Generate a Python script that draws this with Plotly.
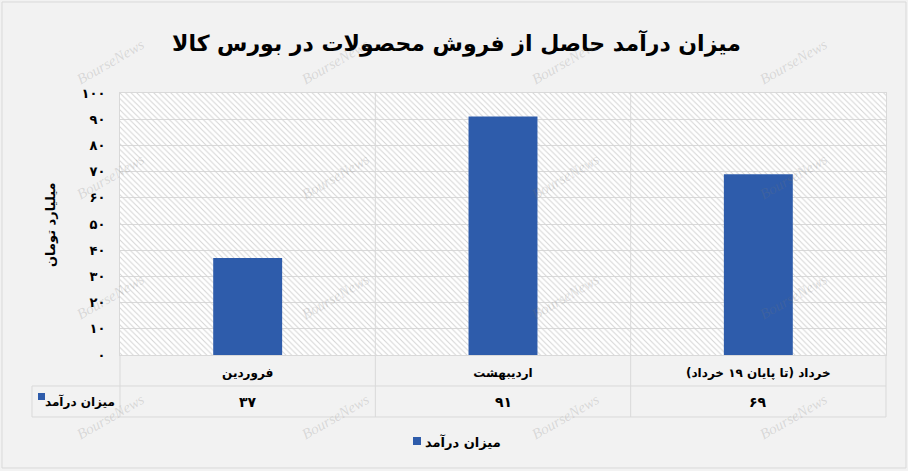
import plotly.graph_objects as go

# data
categories = ["فروردین", "اردیبهشت", "خرداد (تا پایان ۱۹ خرداد)"]
revenue = [37, 91, 69]
series_name = "میزان درآمد"
y_ticks = list(range(0, 101, 10))
title = "میزان درآمد حاصل از فروش محصولات در بورس کالا"
y_title = "میلیارد تومان"
watermark = "BourseNews"

FA = str.maketrans("0123456789", "۰۱۲۳۴۵۶۷۸۹")


def fa(n):
    return str(n).translate(FA)


# pixel helpers (figure is 908x471, plot area 120..886 x 93..355)
W, H = 908, 471
L, R, T, B = 120, 886, 93, 355


def px(x):
    return (x - L) / (R - L)


def py(y):
    return (B - y) / (B - T)


FONT = "DejaVu Sans"
GRID = "#d9d9d9"
BLUE = "#2e5cab"

xs = list(range(len(categories)))

fig = go.Figure()

# hatched plot background
fig.add_trace(go.Bar(
    x=[(len(categories) - 1) / 2], y=[y_ticks[-1]], width=[len(categories)],
    marker=dict(color="rgba(0,0,0,0)", line_width=0,
                pattern=dict(shape="\\", fgcolor="#d4d4d4", bgcolor="rgba(0,0,0,0)",
                             size=4, solidity=0.25, fillmode="replace")),
    showlegend=False, hoverinfo="skip",
))

fig.add_trace(go.Bar(
    x=xs, y=revenue, width=0.27, name=series_name, showlegend=False,
    marker=dict(color=BLUE, line_width=0),
))

shapes = []
line = dict(color=GRID, width=1)
shapes.append(dict(type="line", xref="paper", yref="paper", x0=px(32), x1=1, y0=py(386), y1=py(386), line=line))
shapes.append(dict(type="line", xref="paper", yref="paper", x0=px(32), x1=1, y0=py(417), y1=py(417), line=line))
shapes.append(dict(type="line", xref="paper", yref="paper", x0=px(32), x1=px(32), y0=py(386), y1=py(417), line=line))
shapes.append(dict(type="line", xref="paper", yref="paper", x0=0, x1=0, y0=py(417), y1=0, line=line))
shapes.append(dict(type="line", xref="paper", yref="paper", x0=1, x1=1, y0=py(417), y1=0, line=line))
for i in xs[:-1]:
    shapes.append(dict(type="line", xref="x", yref="paper", x0=i + 0.5, x1=i + 0.5,
                       y0=py(417), y1=1, line=line))
# legend key inside the table
shapes.append(dict(type="rect", xref="paper", yref="paper", x0=px(38), x1=px(45),
                   y0=py(400), y1=py(393), fillcolor=BLUE, line_width=0))
# bottom legend key
shapes.append(dict(type="rect", xref="paper", yref="paper", x0=px(413), x1=px(421),
                   y0=py(445), y1=py(437), fillcolor=BLUE, line_width=0))
# outer border
shapes.append(dict(type="rect", xref="paper", yref="paper", x0=px(2), x1=px(906),
                   y0=py(468), y1=py(2), line=line, layer="below"))

bold = dict(family=FONT, color="black", weight="bold")
mid = dict(xref="paper", yref="paper", showarrow=False, xanchor="center", yanchor="middle")
annotations = [
    dict(mid, text=title, x=px(456), y=py(43), font=dict(size=22, **bold)),
    dict(mid, text=y_title, x=px(50), y=py(225), textangle=-90, font=dict(size=13, **bold)),
    dict(mid, text=series_name, x=px(117), y=py(401), xanchor="right", font=dict(size=12, **bold)),
    dict(mid, text=series_name, x=px(423), y=py(442), xanchor="left", font=dict(size=13, **bold)),
]
for i, v in zip(xs, revenue):
    annotations.append(dict(mid, text=fa(v), x=i, y=py(402), xref="x",
                            font=dict(size=14, **bold)))

for wy in [62, 177, 297, 417]:
    for wx in [110, 335, 565, 793]:
        annotations.append(dict(mid, text=watermark, x=px(wx), y=py(wy), textangle=-30,
                                font=dict(family="Liberation Serif", size=15,
                                          color="rgba(120,120,120,0.22)", style="italic")))

fig.update_layout(
    width=W, height=H,
    margin=dict(l=L, r=W - R, t=T, b=H - B),
    paper_bgcolor="#f2f2f2",
    plot_bgcolor="white",
    barmode="overlay",
    font=dict(family=FONT),
    xaxis=dict(range=[-0.5, len(categories) - 0.5], tickvals=xs, ticktext=categories,
               showgrid=False, zeroline=False, showline=True, mirror=True, linecolor=GRID,
               ticks="", ticklabelstandoff=7, tickfont=dict(size=12, **bold), fixedrange=True),
    yaxis=dict(range=[0, y_ticks[-1]], tickvals=y_ticks, ticktext=[fa(v) for v in y_ticks],
               gridcolor=GRID, zeroline=False, showline=True, mirror=True, linecolor=GRID,
               ticks="", ticklabelstandoff=11, tickfont=dict(size=13, **bold), fixedrange=True),
    shapes=shapes,
    annotations=annotations,
)

fig.write_html("out.html", config={"displayModeBar": False},
               post_script="document.body.style.margin='0';")
